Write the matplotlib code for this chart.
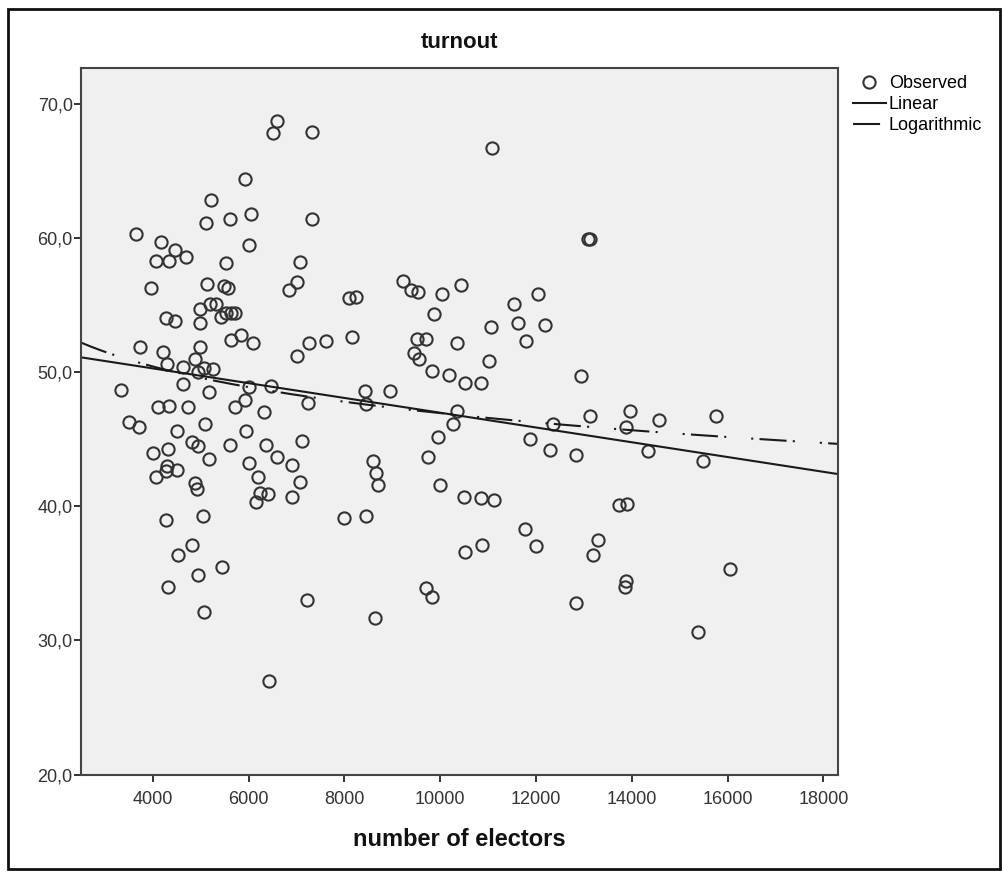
import numpy as np
import matplotlib
matplotlib.use("Agg")
import matplotlib.pyplot as plt
from matplotlib.patches import Rectangle
from matplotlib.ticker import FuncFormatter

plt.rcParams["font.family"] = ["Liberation Sans", "DejaVu Sans"]

# observed points: number of electors vs turnout (%)
electors = [
    6600, 6500, 7320, 5920, 5210, 5620, 6040, 7320, 5100, 3650,
    4180, 4470, 4700, 4070, 4330, 6010, 5520, 7080, 3970, 5120,
    5480, 5570, 7000, 6840, 8100, 8250, 4980, 5200, 5320, 5430,
    5530, 5640, 5710, 4270, 4470, 4990, 5850, 5640, 6090, 7270,
    7610, 8150, 7000, 3740, 4220, 4990, 4870, 4290, 4630, 5060,
    5250, 4940, 3340, 4630, 5170, 6010, 6470, 8420, 8440, 7240,
    5920, 5710, 6330, 4100, 4330, 4730, 3510, 3710, 4500, 5090,
    5950, 7120, 4820, 4940, 5600, 6370, 4000, 4310, 5170, 6010,
    6600, 6900, 8600, 8650, 8700, 4060, 4290, 4270, 4500, 4870,
    4920, 6190, 7080, 6230, 6400, 6150, 6900, 4270, 5040, 8000,
    8440, 4810, 4520, 5440, 4950, 4310, 5070, 7220, 8630, 6420,
    11080, 13120, 13090, 9220, 9400, 9540, 10030, 10440, 9870, 11540,
    12040, 11050, 11630, 12180, 9520, 9710, 10350, 11790, 9450, 9560,
    11020, 9820, 10180, 10510, 10850, 12950, 8960, 10340, 10270, 12360,
    13120, 13970, 13880, 14570, 9950, 11870, 12290, 12830, 14340, 9750,
    9990, 10490, 10850, 11130, 13740, 13910, 11770, 12010, 10510, 10870,
    13300, 13190, 9700, 9820, 13880, 13860, 12830, 15760, 15490, 16060,
    15390,
]
turnout = [
    68.7, 67.8, 67.9, 64.4, 62.8, 61.4, 61.8, 61.4, 61.1, 60.3,
    59.7, 59.1, 58.6, 58.3, 58.3, 59.5, 58.1, 58.2, 56.3, 56.6,
    56.4, 56.3, 56.7, 56.1, 55.5, 55.6, 54.7, 55.1, 55.1, 54.1,
    54.4, 54.4, 54.4, 54.0, 53.8, 53.7, 52.8, 52.4, 52.2, 52.2,
    52.3, 52.6, 51.2, 51.9, 51.5, 51.9, 51.0, 50.6, 50.4, 50.3,
    50.2, 50.0, 48.7, 49.1, 48.5, 48.9, 49.0, 48.6, 47.6, 47.7,
    47.9, 47.4, 47.0, 47.4, 47.5, 47.4, 46.3, 45.9, 45.6, 46.1,
    45.6, 44.9, 44.8, 44.5, 44.6, 44.6, 44.0, 44.3, 43.5, 43.2,
    43.7, 43.1, 43.4, 42.5, 41.6, 42.2, 43.0, 42.6, 42.7, 41.7,
    41.3, 42.2, 41.8, 41.0, 40.9, 40.3, 40.7, 39.0, 39.3, 39.1,
    39.3, 37.1, 36.4, 35.5, 34.9, 34.0, 32.1, 33.0, 31.7, 27.0,
    66.7, 59.9, 59.9, 56.8, 56.1, 56.0, 55.8, 56.5, 54.3, 55.1,
    55.8, 53.4, 53.7, 53.5, 52.5, 52.5, 52.2, 52.3, 51.4, 51.0,
    50.8, 50.1, 49.8, 49.2, 49.2, 49.7, 48.6, 47.1, 46.1, 46.1,
    46.7, 47.1, 45.9, 46.4, 45.2, 45.0, 44.2, 43.8, 44.1, 43.7,
    41.6, 40.7, 40.6, 40.5, 40.1, 40.2, 38.3, 37.0, 36.6, 37.1,
    37.5, 36.4, 33.9, 33.2, 34.4, 34.0, 32.8, 46.7, 43.4, 35.3,
    30.6,
]

# fitted curves
lin_intercept, lin_slope = 52.48, -0.0005506
log_a, log_b = 81.88, -3.793

x_ticks = [4000, 6000, 8000, 10000, 12000, 14000, 16000, 18000]
y_ticks = [20, 30, 40, 50, 60, 70]
x_range = (2500, 18300)
y_range = (20, 72.7)

fig = plt.figure(figsize=(10.03, 8.72), dpi=100)
ax = fig.add_axes([0.0808, 0.1118, 0.7544, 0.8106])
ax.set_facecolor("#f0f0f0")

ax.plot(electors, turnout, linestyle="none", marker="o", ms=8.8,
        mfc="none", mec="#333333", mew=1.5, label="Observed")

xs = np.linspace(x_range[0], x_range[1], 400)
ax.plot(xs, lin_intercept + lin_slope * xs, color="#1a1a1a", lw=1.5,
        label="Linear")
ax.plot(xs, log_a + log_b * np.log(xs), color="#1a1a1a", lw=1.5,
        linestyle=(0, (13, 3, 1, 12, 1, 3)), label="Logarithmic")

ax.set_xlim(*x_range)
ax.set_ylim(*y_range)
ax.set_xticks(x_ticks)
ax.set_yticks(y_ticks)
ax.xaxis.set_major_formatter(FuncFormatter(lambda v, p: f"{int(v)}"))
ax.yaxis.set_major_formatter(
    FuncFormatter(lambda v, p: f"{v:.1f}".replace(".", ",")))
ax.tick_params(axis="both", direction="out", length=5, width=1.4,
               color="#333333", labelcolor="#333333", labelsize=13)
ax.tick_params(axis="x", pad=7)
ax.tick_params(axis="y", pad=1)
for s in ax.spines.values():
    s.set_color("#444444")
    s.set_linewidth(1.5)

ax.set_title("turnout", fontsize=16, fontweight="bold", pad=14,
             color="#111111")
ax.set_xlabel("number of electors", fontsize=17, fontweight="bold",
              labelpad=14, color="#111111")

ax.legend(loc="upper left", bbox_to_anchor=(0.85, 0.9135),
          bbox_transform=fig.transFigure, frameon=False, fontsize=13,
          handlelength=1.85, handletextpad=0.15, labelspacing=0.22,
          borderpad=0, borderaxespad=0, numpoints=1)

# outer frame around the whole picture
fig.patches.append(Rectangle((8 / 1003, 3 / 872), 992 / 1003, 860 / 872,
                             transform=fig.transFigure, fill=False,
                             edgecolor="#111111", lw=2))

fig.savefig("out.png", dpi=100)
